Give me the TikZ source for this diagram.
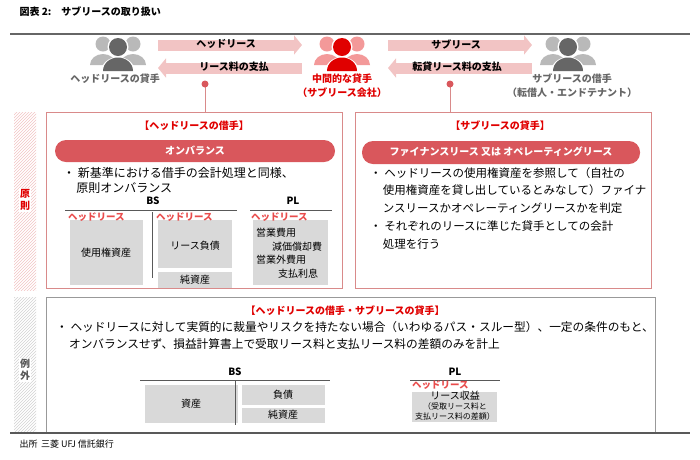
\documentclass[tikz,border=0pt]{standalone}
\usepackage{fontspec}
\setmainfont{Noto Sans CJK JP}
\usetikzlibrary{patterns,arrows.meta}
\definecolor{rd}{HTML}{E00000}
\definecolor{pill}{HTML}{D9575C}
\definecolor{pk}{HTML}{F2C4C4}
\definecolor{bx}{HTML}{D9D9D9}
\definecolor{frame}{HTML}{D98A8A}
\tikzset{
 fs/.style={font=\fontsize{#1}{#1}\selectfont},
 big/.style={line width=11pt,pk,-{Triangle[length=8pt,width=19pt]}},
 grayb/.style={fill=bx,draw=none},
 hl/.style={text=rd!70,font=\fontsize{9.5}{9.5}\selectfont\bfseries,inner sep=0pt,anchor=north west},
 pillst/.style={fill=pill,rounded corners=11pt,draw=none},
}
\newcommand{\people}[3]{%
 \fill[#2] (#1)++(-15,-9) circle (7.5); \fill[#2] (#1)++(15,-9) circle (7.5);
 \fill[#2] (#1)++(-28,12) arc(180:360:13 and 11) -- cycle;
 \fill[#2] (#1)++(2,12) arc(180:360:13 and 11) -- cycle;
 \fill[white] (#1)++(0,-6) circle (10.5);
 \fill[#3] (#1)++(0,-6) circle (9);
 \fill[white] (#1)++(-17,19) arc(180:360:17 and 15) -- cycle;
 \fill[#3] (#1)++(-15,18) arc(180:360:15 and 13.5) -- cycle;}
\begin{document}
\begin{tikzpicture}[x=1pt,y=-1pt]
\useasboundingbox (0,0) rectangle (700,459);
\node[anchor=west,fs=11,font=\bfseries] (title) at (16,12) {図表 2:\quad サブリースの取り扱い};
\draw[line width=2pt,gray!80!black] (10,34) -- (690,34);
% people
\coordinate (pL) at (118,53); \coordinate (pC) at (342,53); \coordinate (pR) at (568,53);
\people{pL}{gray!55}{gray!80!black}
\people{pC}{rd!40}{rd}
\people{pR}{gray!55}{gray!80!black}
\node[fs=10,font=\bfseries,text=gray!80!black] (lL) at (115,79) {ヘッドリースの貸手};
\node[fs=10,font=\bfseries,text=rd] (lC) at (342,79) {中間的な貸手};
\node[fs=9,font=\bfseries,text=rd] (lC2) at (342,93) {（サブリース会社）};
\node[fs=10,font=\bfseries,text=gray!80!black] (lR) at (572,79) {サブリースの借手};
\node[fs=9,font=\bfseries,text=gray!80!black] (lR2) at (572,93) {（転借人・エンドテナント）};
% arrows
\coordinate (a1) at (158,45); \coordinate (a2) at (302,45);
\coordinate (a3) at (302,68); \coordinate (a4) at (158,68);
\coordinate (a5) at (388,45); \coordinate (a6) at (532,45);
\coordinate (a7) at (532,68); \coordinate (a8) at (388,68);
\draw[big] (a1) -- (a2); \draw[big] (a3) -- (a4);
\draw[big] (a5) -- (a6); \draw[big] (a7) -- (a8);
\node[fs=12,font=\bfseries] (t1) at (226,44) {ヘッドリース};
\node[fs=12,font=\bfseries] (t2) at (234,67) {リース料の支払};
\node[fs=12,font=\bfseries] (t3) at (456,44) {サブリース};
\node[fs=12,font=\bfseries] (t4) at (457,67) {転貸リース料の支払};
% dots
\coordinate (d1) at (205,84); \coordinate (d2) at (450,84);
\draw[frame] (d1) -- (205,112); \draw[frame] (d2) -- (450,112);
\fill[pill] (d1) circle (3.5); \fill[pill] (d2) circle (3.5);
% side strips
\fill[pattern=north east lines,pattern color=pk] (14,112) rectangle (36,290);
\node[text=rd,fs=9,font=\bfseries,align=center,inner sep=1pt,fill=white] (g1) at (25,200) {原\\則};
\fill[pattern=north east lines,pattern color=gray!35] (14,297) rectangle (36,433);
\node[text=gray!70!black,fs=9,font=\bfseries,align=center,inner sep=1pt,fill=white] (g2) at (25,370) {例\\外};
% left box
\draw[frame,line width=0.8pt] (46,112) rectangle (342,288);
\node[text=rd,fs=12,font=\bfseries] (lt) at (194,126) {【ヘッドリースの借手】};
\fill[pillst] (55,140) rectangle (335,162);
\node[text=white,fs=12,font=\bfseries] (lp) at (195,151) {オンバランス};
\node[anchor=north west,align=left,inner sep=0pt,font=\fontsize{12}{15}\selectfont] (lb) at (63,167) {・ 新基準における借手の会計処理と同様、\\\hspace{1.1em}原則オンバランス};
\node[fs=12,font=\bfseries] (bs1) at (153,201) {BS};
\draw[gray!70!black,line width=1pt] (65,210) -- (237,210);
\node[fs=12,font=\bfseries] (pl1) at (293,201) {PL};
\draw[gray!70!black,line width=1pt] (250,210) -- (332,210);
\fill[grayb] (70,220) rectangle (143,285); \node[fs=10] (u1) at (106,253) {使用権資産};
\draw[gray!70!black,line width=0.8pt] (152,212) -- (152,278);
\fill[grayb] (158,220) rectangle (232,268); \node[fs=10] (u2) at (195,246) {リース負債};
\fill[grayb] (158,272) rectangle (232,288); \node[fs=10] (u3) at (195,280) {純資産};
\fill[grayb] (253,220) rectangle (328,285);
\node[anchor=north west,align=left,inner sep=0pt,font=\fontsize{10}{13.5}\selectfont] (u4) at (256,228) {営業費用\\\hspace{1.6em}減価償却費\\営業外費用\\\hspace{2.2em}支払利息};
\node[hl] (h1) at (68,213) {ヘッドリース};
\node[hl] (h2) at (156,213) {ヘッドリース};
\node[hl] (h3) at (251,213) {ヘッドリース};
% right box
\draw[frame,line width=0.8pt] (355,112) rectangle (651,288);
\node[text=rd,fs=12,font=\bfseries] (rt) at (500,126) {【サブリースの貸手】};
\fill[pillst] (362,141) rectangle (640,164);
\node[text=white,fs=12,font=\bfseries] (rp) at (501,152) {ファイナンスリース 又は オペレーティングリース};
\node[anchor=north west,align=left,inner sep=0pt,font=\fontsize{11.5}{17.5}\selectfont] (rb) at (370,167) {・ ヘッドリースの使用権資産を参照して（自社の\\\hspace{1.1em}使用権資産を貸し出しているとみなして）ファイナ\\\hspace{1.1em}ンスリースかオペレーティングリースかを判定};
\node[anchor=north west,align=left,inner sep=0pt,font=\fontsize{11.5}{17.5}\selectfont] (rb2) at (370,221) {・ それぞれのリースに準じた貸手としての会計\\\hspace{1.1em}処理を行う};
% lower box
\draw[gray!80,line width=0.8pt] (46,297) rectangle (655,432);
\node[text=rd,fs=12,font=\bfseries] (xt) at (345,311) {【ヘッドリースの借手・サブリースの貸手】};
\node[anchor=north west,align=left,inner sep=0pt,font=\fontsize{11.7}{17}\selectfont] (xb) at (56,321) {・ ヘッドリースに対して実質的に裁量やリスクを持たない場合（いわゆるパス・スルー型）、一定の条件のもと、\\\hspace{1.1em}オンバランスせず、損益計算書上で受取リース料と支払リース料の差額のみを計上};
\node[fs=12,font=\bfseries] (bs2) at (235,372) {BS};
\draw[gray!70!black,line width=1pt] (140,380) -- (330,380);
\fill[grayb] (145,385) rectangle (238,423); \node[fs=10] (v1) at (191,404) {資産};
\draw[gray!70!black,line width=0.8pt] (235,380) -- (235,425);
\fill[grayb] (242,385) rectangle (325,405); \node[fs=10] (v2) at (283,395) {負債};
\fill[grayb] (242,408) rectangle (325,423); \node[fs=10] (v3) at (283,415) {純資産};
\node[fs=12,font=\bfseries] (pl2) at (455,372) {PL};
\draw[gray!70!black,line width=1pt] (410,380) -- (500,380);
\fill[grayb] (412,392) rectangle (497,422);
\node[hl] (h4) at (412,381) {ヘッドリース};
\node[align=center,inner sep=0pt,font=\fontsize{8}{10}\selectfont] (v4) at (455,406) {\fontsize{10}{12}\selectfont リース収益\\（受取リース料と\\支払リース料の差額）};
\draw[gray!70!black,line width=2pt] (10,433) -- (690,433);
\node[anchor=west,fs=9] (src) at (16,444) {出所\, 三菱 UFJ 信託銀行};
\end{tikzpicture}
\end{document}
